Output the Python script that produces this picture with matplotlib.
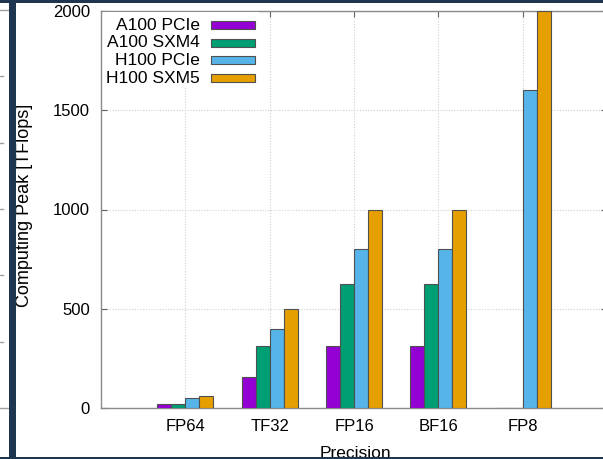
import numpy as np
import matplotlib.pyplot as plt
from matplotlib.patches import Rectangle
from matplotlib.lines import Line2D

plt.rcParams['font.family'] = ['Liberation Sans', 'DejaVu Sans']

# ===== DATA =====
precisions = ["FP64", "TF32", "FP16", "BF16", "FP8"]
gpus = ["A100 PCIe", "A100 SXM4", "H100 PCIe", "H100 SXM5"]
a100_pcie = [19.5, 156, 312, 312, 0]
a100_sxm4 = [19.5, 312, 624, 624, 0]
h100_pcie = [48, 400, 800, 800, 1600]
h100_sxm5 = [60, 500, 1000, 1000, 2000]
colors = ["#9400D3", "#009E73", "#56B4E9", "#E69F00"]
yticks = [0, 500, 1000, 1500, 2000]

W, H = 603, 459


def fx(x):
    return x / W


def fy(y):
    return 1 - y / H


fig = plt.figure(figsize=(W / 100, H / 100), dpi=100)
ax = fig.add_axes([fx(101), fy(408), 506 / W, 397 / H])

series = [a100_pcie, a100_sxm4, h100_pcie, h100_sxm5]
x = np.arange(len(precisions))
w = 1 / 6
for i, (vals, c) in enumerate(zip(series, colors)):
    ax.bar(x + (i - 1.5) * w, vals, w, color=c, edgecolor='#505050',
           linewidth=0.8, zorder=3)

ax.set_xlim(-1, 5)
ax.set_ylim(0, 2000)
ax.set_xticks(x)
ax.set_xticklabels(precisions)
ax.set_yticks(yticks)
ax.tick_params(direction='in', length=4, top=True, right=True,
               color='#606060', labelsize=12, pad=8)
ax.grid(True, linestyle=(0, (1, 1.5)), color='#d0d0d0', linewidth=0.8)
ax.set_axisbelow(True)
for s in ax.spines.values():
    s.set_color('#8a8a8a')
    s.set_linewidth(1.0)

# axis titles, centred on the measured positions
ax.set_ylabel('Computing Peak [TFlops]', fontsize=13, va='center')
ax.yaxis.set_label_coords((25 - 101) / 506, (408 - 205) / 397)
ax.set_xlabel('Precision', fontsize=12.5, va='center')
ax.xaxis.set_label_coords((355 - 101) / 506, (408 - 453) / 397)

# ===== LEGEND (gnuplot style: text right aligned, sample box on right) =====
fig.patches.append(Rectangle((fx(103), fy(87)), 156 / W, 75 / H,
                             transform=fig.transFigure, facecolor='white',
                             edgecolor='none', zorder=5))
for i, (name, c) in enumerate(zip(gpus, colors)):
    yc = 25 + i * 17.7
    fig.text(fx(200), fy(yc), name, ha='right', va='center', fontsize=12.5,
             zorder=6)
    fig.patches.append(Rectangle((fx(211), fy(yc + 4)), 44 / W, 8 / H,
                                 transform=fig.transFigure, facecolor=c,
                                 edgecolor='#505050', linewidth=0.8, zorder=6))

# ===== SLIDE FRAME =====
dark = '#1f3650'
for (x0, y0, ww, hh) in [(9, 0, 7, 459), (0, 0, 603, 3), (0, 457, 603, 2)]:
    fig.patches.append(Rectangle((fx(x0), fy(y0 + hh)), ww / W, hh / H,
                                 transform=fig.transFigure, facecolor=dark,
                                 edgecolor='none', zorder=10))
# remains of the neighbouring panel on the far left
for yy in [10, 408]:
    fig.lines.append(Line2D([0, fx(8)], [fy(yy), fy(yy)],
                            transform=fig.transFigure, color='#a0a0a0', lw=1))
for yy in [76, 143, 209, 275, 342]:
    fig.lines.append(Line2D([0, fx(3)], [fy(yy), fy(yy)],
                            transform=fig.transFigure, color='#a0a0a0', lw=1))

fig.savefig('out.png', dpi=100)
